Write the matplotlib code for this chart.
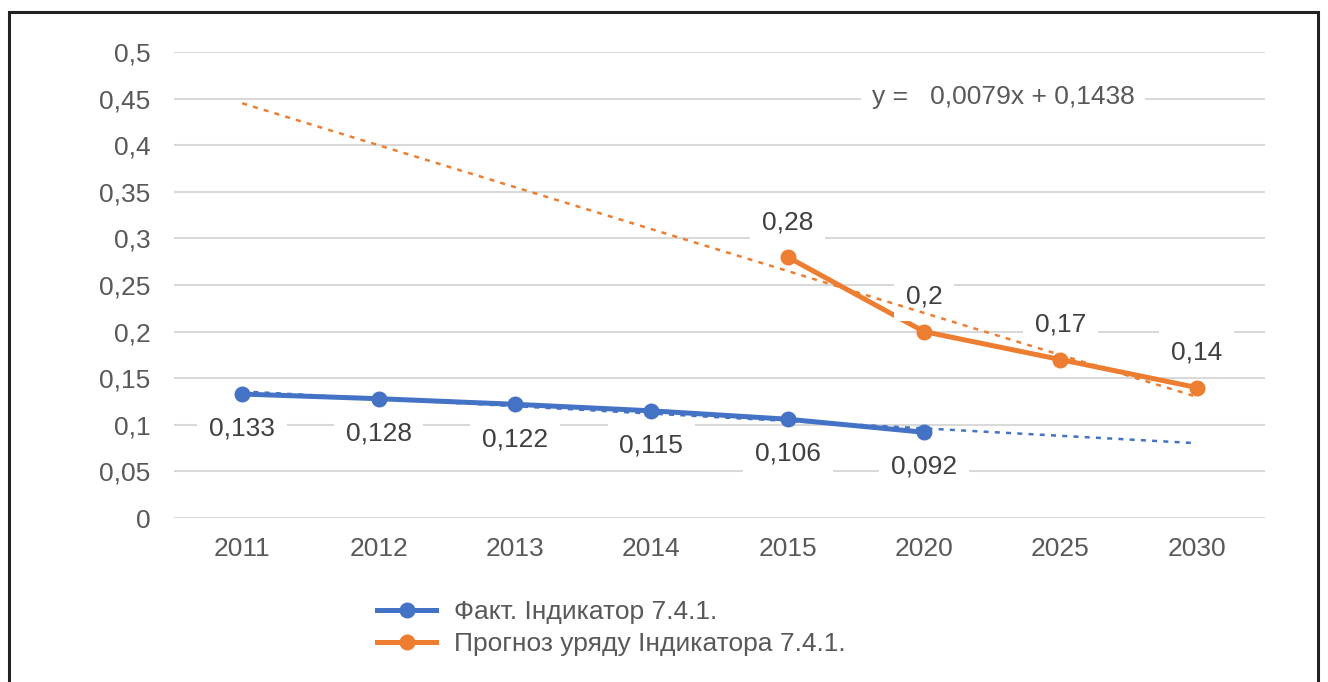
import numpy as np
import matplotlib.pyplot as plt
from matplotlib.patches import Rectangle

plt.rcParams['font.family'] = ['Liberation Sans', 'DejaVu Sans']

# data
years = ['2011', '2012', '2013', '2014', '2015', '2020', '2025', '2030']
fact = [0.133, 0.128, 0.122, 0.115, 0.106, 0.092]
forecast_years = ['2015', '2020', '2025', '2030']
forecast = [0.28, 0.2, 0.17, 0.14]
fact_labels = ['0,133', '0,128', '0,122', '0,115', '0,106', '0,092']
forecast_labels = ['0,28', '0,2', '0,17', '0,14']
yticks = [0, 0.05, 0.1, 0.15, 0.2, 0.25, 0.3, 0.35, 0.4, 0.45, 0.5]
ytick_labels = ['0', '0,05', '0,1', '0,15', '0,2', '0,25', '0,3', '0,35', '0,4', '0,45', '0,5']
equation = 'y =   0,0079x + 0,1438'

blue = '#4472C4'
orange = '#ED7D31'
grid_c = '#D9D9D9'
tick_c = '#595959'
lab_c = '#404040'

W, H = 1328, 682
fig = plt.figure(figsize=(W / 100, H / 100), dpi=100)
ax = fig.add_axes([174 / W, 1 - 518 / H, (1265 - 174) / W, (518 - 52) / H])

x_all = np.arange(len(years))
x_fact = x_all[:len(fact)]
x_fc = np.array([years.index(y) for y in forecast_years])

# gridlines
for t in yticks:
    ax.axhline(t, color=grid_c, lw=1.5, zorder=0)

# series
ax.plot(x_fact, fact, color=blue, lw=3.6, marker='o', ms=10.5, zorder=3,
        label='Факт. Індикатор 7.4.1.')
ax.plot(x_fc, forecast, color=orange, lw=3.6, marker='o', ms=10.5, zorder=3,
        label='Прогноз уряду Індикатора 7.4.1.')

# data labels
box = dict(boxstyle='square,pad=0.45', fc='white', ec='none')
for xi, v, s in zip(x_fact, fact, fact_labels):
    ax.annotate(s, (xi, v), xytext=(0, -25), textcoords='offset points',
                ha='center', va='center', fontsize=19, color=lab_c,
                bbox=box, zorder=4)
for xi, v, s in zip(x_fc, forecast, forecast_labels):
    ax.annotate(s, (xi, v), xytext=(0, 25), textcoords='offset points',
                ha='center', va='center', fontsize=19, color=lab_c,
                bbox=box, zorder=4)

# linear trend lines (Excel style, x counted from 1)
k1, b1 = np.polyfit(x_fact + 1, fact, 1)
ax.plot(x_all, k1 * (x_all + 1) + b1, color=blue, lw=1.8, ls=(0, (2, 2.5)), zorder=5)
k2, b2 = np.polyfit(x_fc + 1, forecast, 1)
ax.plot(x_all, k2 * (x_all + 1) + b2, color=orange, lw=1.8, ls=(0, (2, 2.5)), zorder=5)

ax.text(872, H - 97, equation, transform=None, fontsize=19, color=tick_c,
        ha='left', va='center',
        bbox=dict(boxstyle='square,pad=0.4', fc='white', ec='none'), zorder=6)

ax.set_xlim(-0.5, len(years) - 0.5)
ax.set_ylim(0, 0.5)
ax.set_xticks(x_all)
ax.set_xticklabels(years)
ax.set_yticks(yticks)
ax.set_yticklabels(ytick_labels)
ax.tick_params(length=0, labelsize=19, labelcolor=tick_c)
ax.tick_params(axis='x', pad=14)
ax.tick_params(axis='y', pad=17)
for sp in ax.spines.values():
    sp.set_visible(False)

fig.legend(loc='upper left', bbox_to_anchor=(377 / W, 1 - 600 / H),
           frameon=False, fontsize=19, labelcolor=tick_c,
           handlelength=2.25, handletextpad=0.65, labelspacing=0.3,
           borderpad=0, borderaxespad=0)

# outer frame
fig.add_artist(Rectangle((9 / W, -0.1), (1318 - 9) / W, 1.1 - 12 / H,
                         transform=fig.transFigure, fill=False,
                         ec='#222222', lw=2.2))

fig.savefig('out.png', dpi=100)
